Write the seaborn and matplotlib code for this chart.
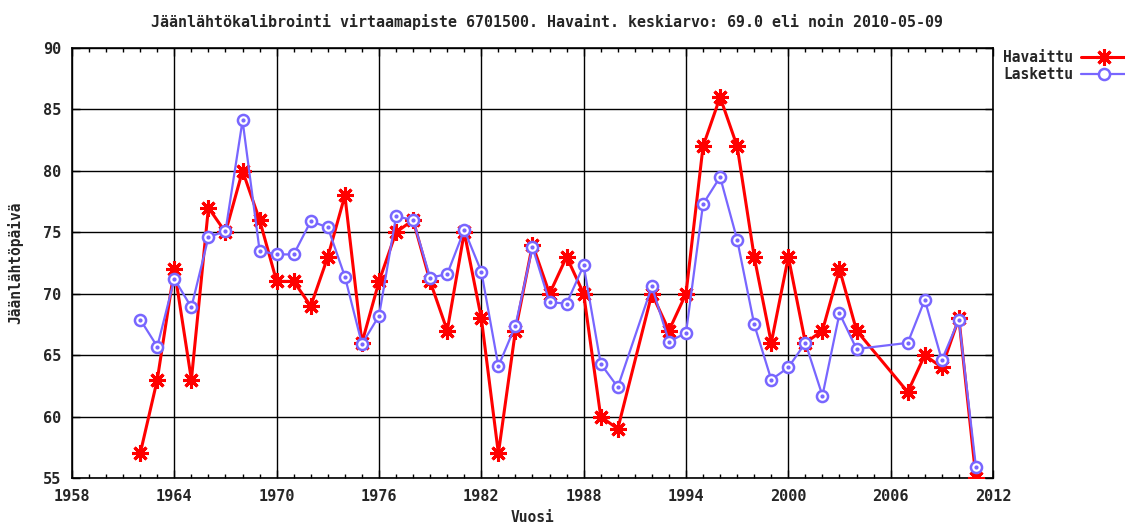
import matplotlib
matplotlib.use("Agg")
import matplotlib.pyplot as plt
import seaborn as sns
import pandas as pd
from matplotlib.ticker import MultipleLocator

# Data
years_obs = [1962, 1963, 1964, 1965, 1966, 1967, 1968, 1969, 1970, 1971, 1972, 1973,
             1974, 1975, 1976, 1977, 1978, 1979, 1980, 1981, 1982, 1983, 1984, 1985,
             1986, 1987, 1988, 1989, 1990, 1992, 1993, 1994, 1995, 1996, 1997, 1998,
             1999, 2000, 2001, 2002, 2003, 2004, 2007, 2008, 2009, 2010, 2011]
havaittu = [57, 63, 72, 63, 77, 75, 80, 76, 71, 71, 69, 73,
            78, 66, 71, 75, 76, 71, 67, 75, 68, 57, 67, 74,
            70, 73, 70, 60, 59, 70, 67, 70, 82, 86, 82, 73,
            66, 73, 66, 67, 72, 67, 62, 65, 64, 68, 55]
laskettu = [67.9, 65.7, 71.2, 68.9, 74.6, 75.1, 84.1, 73.5, 73.2, 73.2, 75.9, 75.4,
            71.4, 65.9, 68.2, 76.3, 76.0, 71.3, 71.6, 75.2, 71.8, 64.1, 67.4, 73.8,
            69.3, 69.2, 72.3, 64.3, 62.4, 70.6, 66.1, 66.8, 77.3, 79.5, 74.4, 67.5,
            63.0, 64.0, 66.0, 61.7, 68.4, 65.5, 66.0, 69.5, 64.6, 67.9, 55.9]
x_ticks = [1958, 1964, 1970, 1976, 1982, 1988, 1994, 2000, 2006, 2012]
y_ticks = [55, 60, 65, 70, 75, 80, 85, 90]
title = "Jäänlähtökalibrointi virtaamapiste 6701500. Havaint. keskiarvo: 69.0 eli noin 2010-05-09"

df = pd.DataFrame({"Vuosi": years_obs, "Havaittu": havaittu, "Laskettu": laskettu})

sns.set_theme(style="white")
plt.rcParams['font.family'] = ['DejaVu Sans Mono', 'DejaVu Sans']

fig = plt.figure(figsize=(11.25, 5.23), dpi=100)
ax = fig.add_axes([72/1125, 1-478/523, (993-72)/1125, (478-48)/523])

red = "#ff0000"
blue = "#7866ff"

sns.lineplot(data=df, x="Vuosi", y="Havaittu", ax=ax, color=red, linewidth=2.2,
             marker=(8, 2, 0), markersize=12, markeredgewidth=2.2, markeredgecolor=red,
             label="Havaittu", zorder=3, estimator=None, sort=False)
sns.lineplot(data=df, x="Vuosi", y="Laskettu", ax=ax, color=blue, linewidth=1.6,
             marker="o", markersize=8, markeredgewidth=1.8, markeredgecolor=blue,
             markerfacecolor="white", label="Laskettu", zorder=4, estimator=None, sort=False)
ax.plot(df["Vuosi"], df["Laskettu"], linestyle="none", marker="o", markersize=2,
        color=blue, zorder=5)

ax.set_xlim(1958, 2012)
ax.set_ylim(55, 90)
ax.set_xticks(x_ticks)
ax.set_yticks(y_ticks)
ax.xaxis.set_minor_locator(MultipleLocator(1))
ax.grid(True, which="major", color="black", linewidth=1.0)
ax.set_axisbelow(True)
for s in ax.spines.values():
    s.set_color("black")
    s.set_linewidth(1.2)
    s.set_visible(True)
ax.tick_params(which="major", direction="in", length=6, width=1, color="black",
               top=True, right=True, bottom=True, left=True, labelsize=11, pad=8)
ax.tick_params(which="minor", direction="in", length=3, width=1, color="black",
               top=True, bottom=True)
for lab in ax.get_xticklabels() + ax.get_yticklabels():
    lab.set_fontweight("bold")

ax.set_xlabel("Vuosi", fontsize=10.5, fontweight="bold", labelpad=4)
ax.set_ylabel("Jäänlähtöpäivä", fontsize=10.5, fontweight="bold", labelpad=14)

fig.text(547/1125, 1-22/523, title, ha="center", va="center", fontsize=10.8, fontweight="bold")

leg = ax.legend(loc="upper left", bbox_to_anchor=(1.0, 1.02), frameon=False,
                markerfirst=False, handlelength=3.2, handletextpad=0.5,
                prop={"family": "DejaVu Sans Mono", "weight": "bold", "size": 10.5},
                labelspacing=0.15, borderaxespad=0.3)

fig.savefig("out.png", dpi=100)
